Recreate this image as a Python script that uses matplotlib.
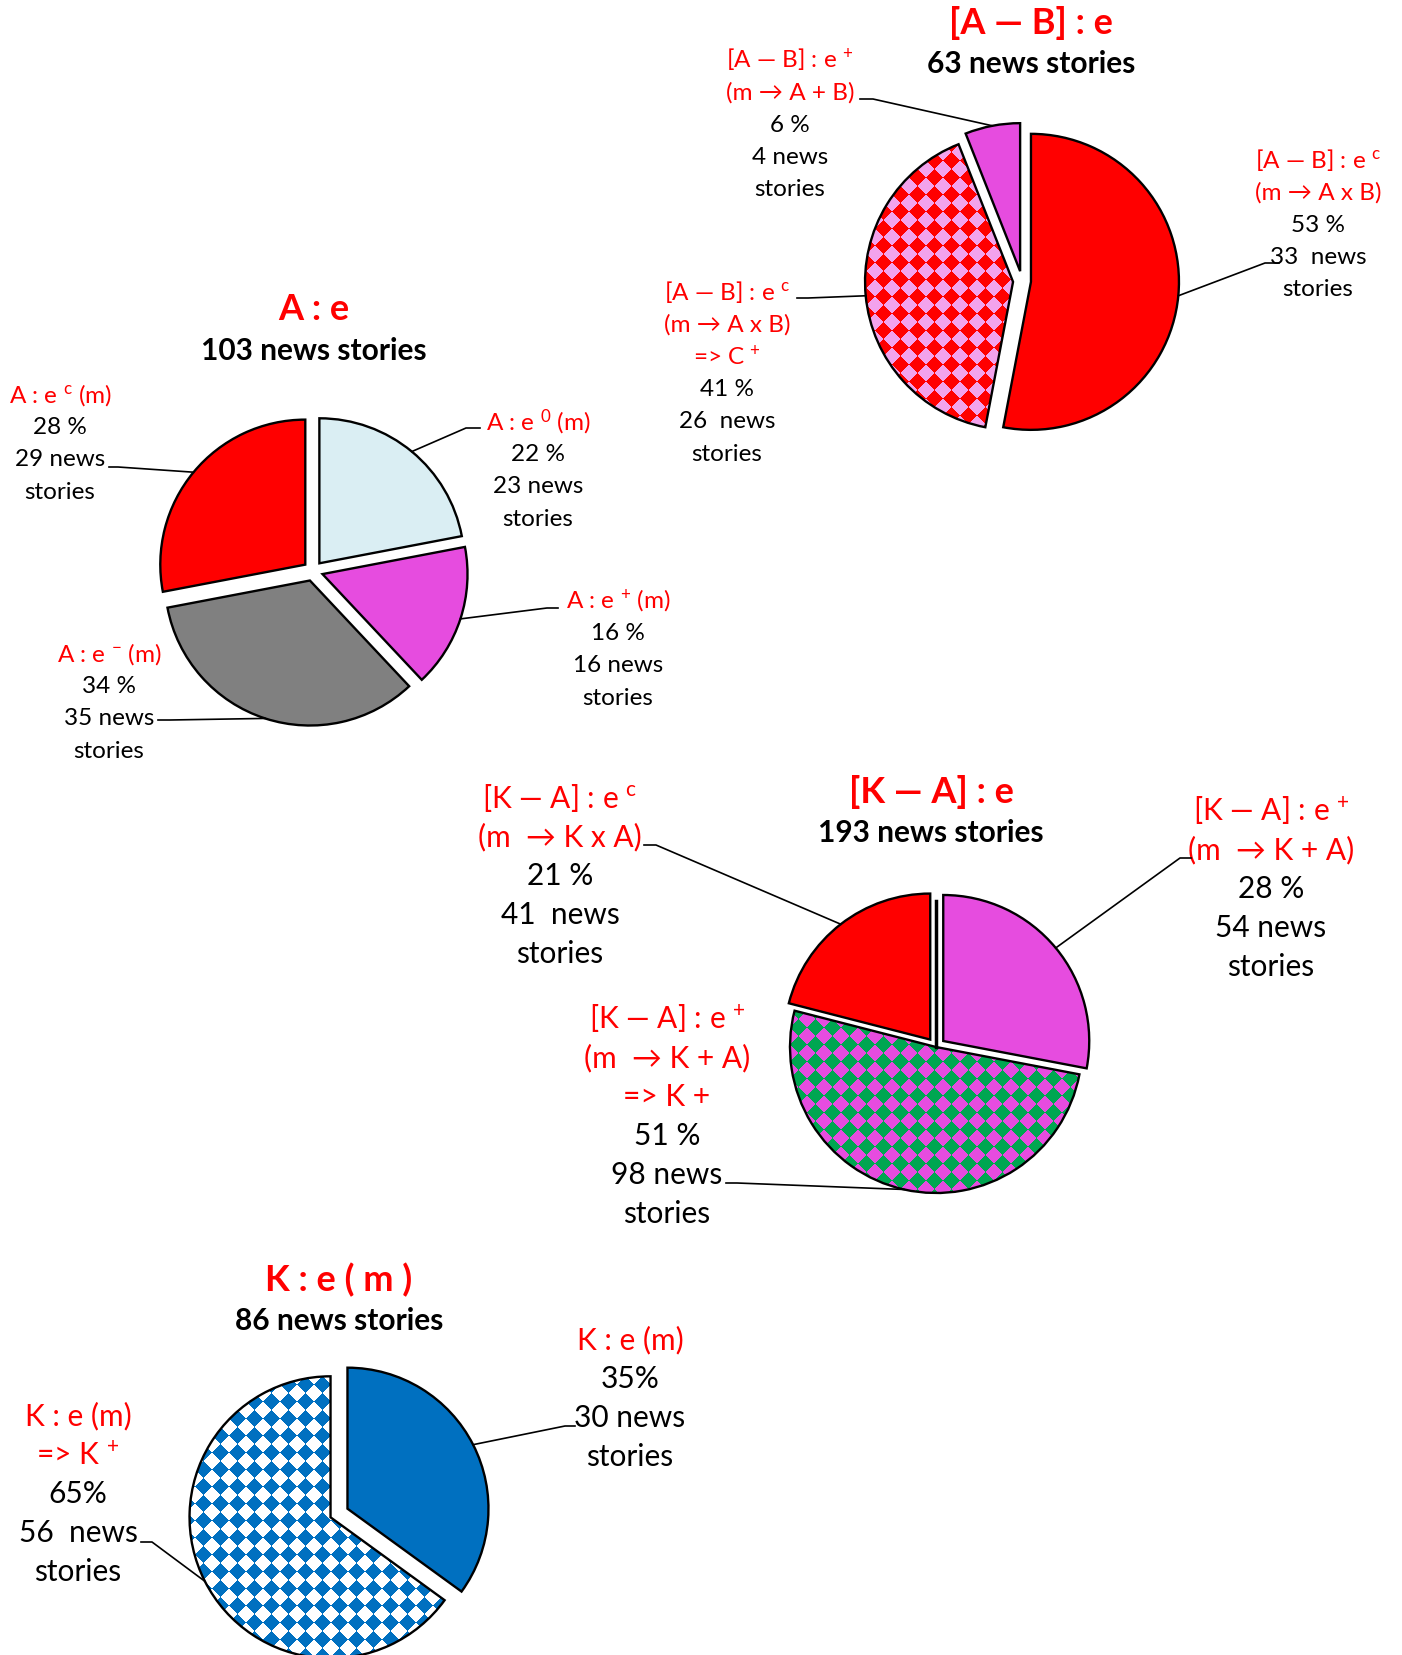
import matplotlib
matplotlib.use('Agg')
import matplotlib.pyplot as plt
import numpy as np
from matplotlib.colors import ListedColormap

plt.rcParams['font.family'] = ['Lato', 'DejaVu Sans']
plt.rcParams['mathtext.fontset'] = 'custom'
plt.rcParams['mathtext.rm'] = 'Lato'
plt.rcParams['mathtext.it'] = 'Lato:italic'
plt.rcParams['mathtext.bf'] = 'Lato:bold'

# ---- data (wedges listed clockwise from 12 o'clock) ----
SUP_C = r'$^{\mathrm{c}}$'
SUP_P = r'$^{+}$'
SUP_0 = r'$^{0}$'
SUP_M = r'$^{-}$'

ab_title = '[A — B] : e'
ab_total = '63 news stories'
ab_shares = [53, 41, 6]
ab_names = [['[A — B] : e ' + SUP_C, '(m → A x B)'],
            ['[A — B] : e ' + SUP_C, '(m → A x B)', '=> C ' + SUP_P],
            ['[A — B] : e ' + SUP_P, '(m → A + B)']]
ab_news = ['33  news', '26  news', '4 news']

a_title = 'A : e'
a_total = '103 news stories'
a_shares = [22, 16, 34, 28]
a_names = [['A : e ' + SUP_0 + ' (m)'], ['A : e ' + SUP_P + ' (m)'],
           ['A : e ' + SUP_M + ' (m)'], ['A : e ' + SUP_C + ' (m)']]
a_news = ['23 news', '16 news', '35 news', '29 news']

ka_title = '[K — A] : e'
ka_total = '193 news stories'
ka_shares = [28, 51, 21]
ka_names = [['[K — A] : e ' + SUP_P, '(m  → K + A)'],
            ['[K — A] : e ' + SUP_P, '(m  → K + A)', '=> K +'],
            ['[K — A] : e ' + SUP_C, '(m  → K x A)']]
ka_news = ['54 news', '98 news', '41  news']

k_title = 'K : e ( m )'
k_total = '86 news stories'
k_shares = [35, 65]
k_names = [['K : e (m)'], ['K : e (m)', '=> K ' + SUP_P]]
k_news = ['30 news', '56  news']

# ---- colours ----
RED = '#FF0000'
MAGENTA = '#E64CDF'
PINK = '#F3A2EC'
LIGHTBLUE = '#DAEEF3'
GRAY = '#808080'
GREEN = '#00A651'
BLUE = '#0070C0'

W, H = 1402, 1656
fig = plt.figure(figsize=(W / 100, H / 100), dpi=100)
ax = fig.add_axes([0, 0, 1, 1])


def checker(wedge, fg, bg, cell=17):
    # diamond checkerboard clipped to the wedge
    cx, cy = wedge.center
    r = wedge.r
    x0, x1 = int(cx - r - 3), int(cx + r + 3)
    y0, y1 = int(cy - r - 3), int(cy + r + 3)
    X, Y = np.meshgrid(np.arange(x0, x1) + 0.5, np.arange(y0, y1) + 0.5)
    Z = (np.floor((X + Y) / cell) + np.floor((X - Y) / cell)) % 2
    im = ax.imshow(Z, cmap=ListedColormap([bg, fg]), vmin=0, vmax=1,
                   extent=(x0, x1, y1, y0), interpolation='nearest', zorder=2)
    im.set_clip_path(wedge)


def draw_pie(shares, colors, patterns, center, radius, explode,
             title, total, title_xy, names, news, pct_fmt, lab_pos, leaders,
             fs, dy):
    wedges, _ = ax.pie(shares, colors=colors, startangle=270, counterclock=True,
                       center=center, radius=radius, explode=explode, frame=True,
                       wedgeprops=dict(edgecolor='black', linewidth=1.7))
    for w, pat in zip(wedges, patterns):
        w.set_zorder(3)
        if pat is not None:
            w.set_facecolor('none')
            checker(w, *pat)
    tx, ty = title_xy
    ax.text(tx, ty, title, color=RED, fontsize=26,
            fontweight='bold', ha='center', va='center')
    ax.text(tx, ty + 41, total, color='black', fontsize=21.5,
            fontweight='bold', ha='center', va='center')
    for i, w in enumerate(wedges):
        lines = names[i] + [pct_fmt.format(shares[i]), news[i], 'stories']
        lx, ly = lab_pos[i]
        for j, line in enumerate(lines):
            ax.text(lx, ly + j * dy, line, fontsize=fs, ha='center', va='center',
                    color=RED if j < len(names[i]) else 'black')
        # leader line to the middle of the wedge arc
        mid = np.deg2rad((w.theta1 + w.theta2) / 2)
        ex = w.center[0] + w.r * np.cos(mid)
        ey = w.center[1] + w.r * np.sin(mid)
        (sx, sy), (kx, ky) = leaders[i]
        ax.plot([sx, kx, ex], [sy, ky, ey], color='black', lw=1.2, zorder=4)
    return wedges


# [A - B] : e
draw_pie(ab_shares, [RED, PINK, MAGENTA], [None, (RED, PINK), None],
         (1022, 282), 148, [9, 9, 10],
         ab_title, ab_total, (1031, 23), ab_names, ab_news, '{} %',
         [(1318, 160), (727, 292), (790, 60)],
         [((1279, 264), (1265, 264)), ((797, 299), (808, 299)),
          ((860, 100), (873, 100))],
         17.5, 32.5)

# A : e
draw_pie(a_shares, [LIGHTBLUE, MAGENTA, GRAY, RED], [None] * 4,
         (313, 572), 145, [10, 10, 10, 10],
         a_title, a_total, (314, 310), a_names, a_news, '{} %',
         [(538, 422), (618, 601), (109, 654), (60, 395)],
         [((480, 429), (466, 429)), ((558, 609), (547, 609)),
          ((158, 721), (170, 721)), ((109, 468), (118, 468))],
         17.5, 32.5)

# [K - A] : e
ka_center = (936, 1048)
draw_pie(ka_shares, [MAGENTA, MAGENTA, RED], [None, (GREEN, MAGENTA), None],
         ka_center, 146, [9.4, 0, 9.4],
         ka_title, ka_total, (931, 792), ka_names, ka_news, '{} %',
         [(1271, 811), (667, 1019), (560, 798)],
         [((1191, 859), (1180, 859)), ((726, 1184), (737, 1184)),
          ((644, 846), (656, 846))],
         21.5, 39)
ax.plot([ka_center[0], ka_center[0]], [ka_center[1], ka_center[1] - 146],
        color='black', lw=2.5, zorder=4)

# K : e ( m )
draw_pie(k_shares, [BLUE, 'white'], [None, (BLUE, 'white')],
         (339, 1514), 141, [9.5, 9.5],
         k_title, k_total, (339, 1280), k_names, k_news, '{}%',
         [(630, 1340), (78, 1416)],
         [((575, 1427), (565, 1427)), ((141, 1543), (152, 1543))],
         21.5, 39)

ax.set_xlim(0, W)
ax.set_ylim(H, 0)
ax.set_aspect('auto')
ax.axis('off')
plt.savefig('out.png', dpi=100)
